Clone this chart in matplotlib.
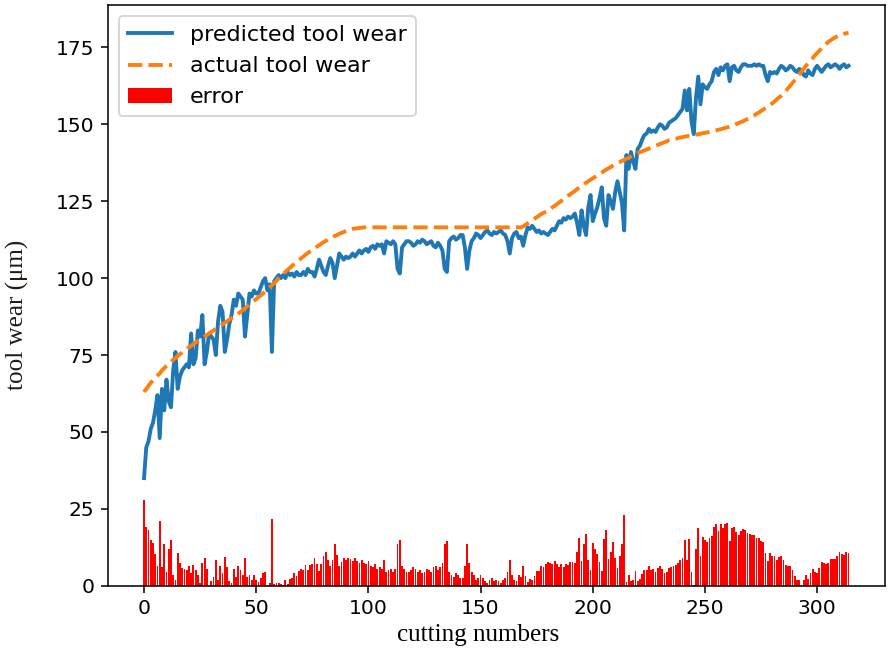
import numpy as np
import matplotlib
matplotlib.use("Agg")
import matplotlib.pyplot as plt

# predicted tool wear per cut
predicted = [
    35, 45, 47, 51, 53, 57, 62, 48, 64, 57,
    67, 60, 58, 70, 76, 64, 68, 70, 71, 72,
    71, 82, 72, 74, 83, 81, 88, 72, 76, 82,
    81, 80, 75, 86, 91, 89, 76, 80, 85, 88,
    93, 91, 95, 94, 93, 81, 88, 95, 94, 96,
    95, 95, 97, 99, 100, 96, 98, 76, 99, 100,
    101, 100, 101, 100, 102, 101, 101.5, 100.5, 102, 101,
    101, 102, 101, 103, 102, 102, 100.5, 103, 106, 104,
    102, 101, 104, 106.5, 105, 100, 104, 108, 107, 106,
    107, 106.5, 107, 108, 107, 108, 109, 108, 109, 109.5,
    108.5, 110, 110.5, 109.5, 111, 110.5, 111, 108, 112, 111.5,
    111, 112, 111, 103, 101.5, 110, 111, 112, 112, 111.5,
    110.5, 111, 112, 111.5, 112.5, 112, 111, 111.5, 112, 110.5,
    110, 111.5, 110.5, 109, 103, 102, 112, 113, 113.5, 112.5,
    113, 114, 114, 110, 103, 109, 112, 113, 114.5, 114,
    113, 114, 115, 115.5, 114.5, 114, 115, 114.5, 115, 115.5,
    114.5, 114, 112, 108, 113, 114.5, 115, 113, 113.5, 110.5,
    114, 116.5, 116, 117, 116, 115, 115.5, 114.5, 115, 114.5,
    114, 115, 116, 115.5, 117, 118.5, 118, 119.5, 119, 120,
    119.5, 120, 121, 118, 114, 122, 117, 114, 123, 127,
    118.5, 121, 123, 126, 129.5, 119.5, 117, 127, 125, 122.5,
    128, 131.5, 128, 124.5, 115.5, 140, 135.5, 141, 138, 135.5,
    142, 143, 145, 146.5, 147, 148.5, 147.5, 148, 147.5, 149,
    150, 149.5, 148.5, 149, 150.5, 151, 151.5, 152, 153, 154,
    155, 161, 154.5, 161.5, 151, 146.8, 158.5, 165.5, 156.5, 163,
    162, 161.5, 163, 164, 167, 168, 166, 168.5, 167.5, 169,
    169.5, 164, 168.5, 169, 167.5, 167, 168.5, 169.5, 169.5, 169,
    169, 169, 169.5, 169, 169.5, 169, 169, 166, 164, 167,
    166.5, 167, 166.5, 168, 169, 168.5, 167.5, 168, 169, 168.5,
    167.5, 167, 168, 167.5, 166, 165.5, 167.5, 166.5, 166, 168,
    169, 168, 167, 168, 169, 169.5, 168.5, 169, 169.5, 169,
    168, 169, 169.5, 168.5, 169,
]

# actual (measured) tool wear per cut
actual = [
    63, 64, 65, 66, 66.8, 67.5, 68.3, 69, 70, 70.7,
    71.5, 72, 72.8, 73.5, 74, 74.7, 75.3, 75.8, 76.4, 77,
    77.5, 78, 78.6, 79.1, 79.6, 80, 80.5, 81, 81.5, 82,
    82.5, 83, 83.5, 84, 84.5, 85, 85.5, 86, 86.5, 87,
    87.5, 88, 88.5, 89, 89.6, 90.2, 90.8, 91.4, 92, 92.6,
    93.2, 93.8, 94.4, 95, 95.6, 96.3, 97, 97.7, 98.4, 99.1,
    100, 100.7, 101.4, 102, 102.7, 103.3, 104, 104.6, 105.2, 105.8,
    106.4, 107, 107.6, 108.2, 108.7, 109.2, 109.7, 110.2, 110.7, 111.2,
    111.7, 112.1, 112.5, 112.9, 113.3, 113.7, 114, 114.4, 114.7, 115,
    115.3, 115.6, 115.8, 116, 116.1, 116.2, 116.3, 116.4, 116.5, 116.5,
    116.5, 116.5, 116.5, 116.5, 116.5, 116.5, 116.5, 116.5, 116.5, 116.5,
    116.5, 116.5, 116.5, 116.5, 116.5, 116.5, 116.5, 116.5, 116.5, 116.5,
    116.5, 116.5, 116.5, 116.5, 116.5, 116.5, 116.5, 116.5, 116.5, 116.5,
    116.5, 116.5, 116.5, 116.5, 116.5, 116.5, 116.5, 116.5, 116.5, 116.5,
    116.5, 116.5, 116.5, 116.5, 116.5, 116.5, 116.5, 116.5, 116.5, 116.5,
    116.5, 116.5, 116.5, 116.5, 116.5, 116.5, 116.5, 116.5, 116.5, 116.5,
    116.5, 116.5, 116.5, 116.5, 116.5, 116.5, 116.5, 116.5, 116.5, 116.8,
    117.3, 117.8, 118.3, 118.8, 119.3, 119.8, 120.3, 120.8, 121.2, 121.5,
    121.8, 122.4, 123, 123.5, 124, 124.6, 125.1, 125.7, 126.2, 126.8,
    127.3, 127.8, 128.3, 128.9, 129.4, 130, 130.5, 131, 131.5, 132,
    132.4, 132.9, 133.4, 133.9, 134.3, 134.8, 135.3, 135.7, 136.1, 136.6,
    137, 137.4, 137.7, 138.1, 138.4, 138.8, 139.1, 139.5, 139.9, 140.3,
    140.6, 140.9, 141.2, 141.5, 141.8, 142.1, 142.4, 142.7, 143, 143.3,
    143.6, 143.9, 144.2, 144.5, 144.8, 145, 145.2, 145.3, 145.5, 145.7,
    145.8, 146, 146.1, 146.3, 146.4, 146.5, 146.6, 146.8, 146.9, 147.1,
    147.2, 147.4, 147.5, 147.7, 147.8, 148, 148.2, 148.4, 148.6, 148.8,
    149, 149.3, 149.6, 149.8, 150.1, 150.4, 150.7, 151, 151.4, 151.7,
    152, 152.5, 152.9, 153.4, 153.8, 154.3, 154.8, 155.3, 155.8, 156.3,
    156.8, 157.4, 158.1, 158.7, 159.3, 160, 160.8, 161.7, 162.5, 163.4,
    164.3, 165.2, 166.2, 167.1, 168, 169, 169.8, 170.7, 171.5, 172.4,
    173.2, 173.9, 174.7, 175.4, 176.1, 176.8, 177.3, 177.8, 178.2, 178.6,
    179, 179.2, 179.4, 179.6, 179.7,
]

predicted = np.array(predicted)
actual = np.array(actual)
cuts = np.arange(len(predicted))
error = np.abs(predicted - actual)

fig, ax = plt.subplots(figsize=(6.4, 4.712), dpi=139.22)
fig.subplots_adjust(left=0.121, right=0.993, top=0.992, bottom=0.107)

ax.plot(cuts, predicted, lw=2, label="predicted tool wear")
ax.plot(cuts, actual, "--", lw=2, label="actual tool wear")
ax.bar(cuts, error, color="red", label="error")

ax.set_xlabel("cutting numbers", family="Liberation Serif", fontsize=13)
ax.set_ylabel("tool wear (\u03bcm)", family="Liberation Serif", fontsize=13,
              color="#221a14")
ax.xaxis.set_label_coords(0.476, -0.066)
ax.yaxis.set_label_coords(-0.102, 0.466)
ax.set_yticks([0, 25, 50, 75, 100, 125, 150, 175])
ax.tick_params(labelsize=10.5)
ax.legend(loc="upper left", fontsize=11.5)

plt.savefig("out.png")
